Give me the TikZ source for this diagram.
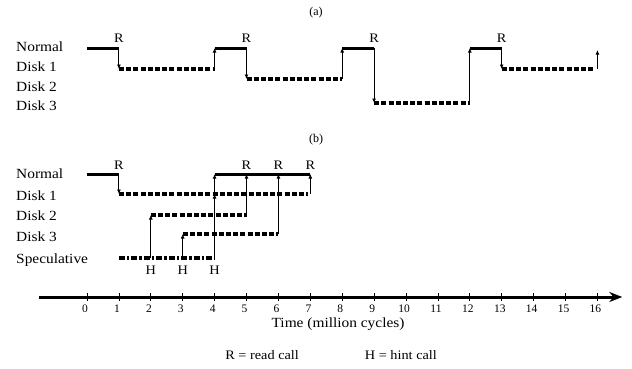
\documentclass[tikz,border=0pt]{standalone}
\usepackage{fontspec}
\setmainfont{Liberation Serif}
\newfontfamily\labfont[FakeStretch=1.1]{Liberation Serif}
\usetikzlibrary{arrows.meta}
\tikzset{
  normalline/.style={line width=3pt},
  diskline/.style={line width=3.2pt, dash pattern=on 5pt off 2.2pt},
  specline/.style={line width=3.2pt, dash pattern=on 6pt off 2pt on 2.5pt off 2pt},
  callarrow/.style={line width=0.9pt, -{Latex[length=4.5pt,width=4pt]}},
  rowlabel/.style={anchor=west, inner sep=0pt, font=\labfont\fontsize{14}{16}\selectfont},
  calllabel/.style={inner sep=0pt, font=\labfont\fontsize{13}{15}\selectfont},
  panel/.style={inner sep=0pt, font=\fontsize{12}{14}\selectfont},
  ticklabel/.style={inner sep=0pt, font=\fontsize{11.5}{13}\selectfont},
  axisline/.style={line width=3pt, -{Stealth[length=13pt,width=10pt]}},
  tickmark/.style={line width=0.8pt},
}
\begin{document}
\begin{tikzpicture}[x=31.9pt, y=-1pt, shift={(87pt,0pt)}]
\useasboundingbox (-2.7273,0) rectangle (17.0846,368);

% ---------- (a) ----------
\node[panel] (pa) at (7.18,13) {(a)};
\node[rowlabel] (laN) at (-2.2257,47) {Normal};
\node[rowlabel] (laD1) at (-2.2257,67) {Disk 1};
\node[rowlabel] (laD2) at (-2.2257,87) {Disk 2};
\node[rowlabel] (laD3) at (-2.2257,106) {Disk 3};

\coordinate (aN0) at (0,48);
\coordinate (aN1) at (1,48);
\coordinate (aD1a) at (1,69);
\coordinate (aD1b) at (4,69);
\coordinate (aN4) at (4,48);
\coordinate (aN5) at (5,48);
\coordinate (aD2a) at (5,79);
\coordinate (aD2b) at (8,79);
\coordinate (aN8) at (8,48);
\coordinate (aN9) at (9,48);
\coordinate (aD3a) at (9,103);
\coordinate (aD3b) at (12,103);
\coordinate (aN12) at (12,48);
\coordinate (aN13) at (13,48);
\coordinate (aD1c) at (13,69);
\coordinate (aD1d) at (15.93,69);
\coordinate (aD1e) at (16,69);
\coordinate (aEnd) at (16,50);

\draw[normalline] (aN0) -- (aN1);
\draw[normalline] (aN4) -- (aN5);
\draw[normalline] (aN8) -- (aN9);
\draw[normalline] (aN12) -- (aN13);
\draw[diskline] (aD1a) -- (aD1b);
\draw[diskline] (aD2a) -- (aD2b);
\draw[diskline] (aD3a) -- (aD3b);
\draw[diskline] (aD1c) -- (aD1d);

\draw[callarrow] (aN1) -- (aD1a);
\draw[callarrow] (aD1b) -- (aN4);
\draw[callarrow] (aN5) -- (aD2a);
\draw[callarrow] (aD2b) -- (aN8);
\draw[callarrow] (aN9) -- (aD3a);
\draw[callarrow] (aD3b) -- (aN12);
\draw[callarrow] (aN13) -- (aD1c);
\draw[callarrow] (aD1e) -- (aEnd);

\node[calllabel] (aR1) at (1,38) {R};
\node[calllabel] (aR5) at (5,38) {R};
\node[calllabel] (aR9) at (9,38) {R};
\node[calllabel] (aR13) at (13,38) {R};

% ---------- (b) ----------
\node[panel] (pb) at (7.18,140) {(b)};
\node[rowlabel] (lbN) at (-2.2257,174) {Normal};
\node[rowlabel] (lbD1) at (-2.2257,196) {Disk 1};
\node[rowlabel] (lbD2) at (-2.2257,216) {Disk 2};
\node[rowlabel] (lbD3) at (-2.2257,237) {Disk 3};
\node[rowlabel] (lbS) at (-2.2257,260) {Speculative};

\coordinate (bN0) at (0,174);
\coordinate (bN1) at (1,174);
\coordinate (bN4) at (4,174);
\coordinate (bN5) at (5,174);
\coordinate (bN6) at (6,174);
\coordinate (bN7) at (7,174);
\coordinate (bD1a) at (1,194);
\coordinate (bD1m) at (4,194);
\coordinate (bD1e) at (6.92,194);
\coordinate (bD1b) at (7,194);
\coordinate (bD2a) at (2,215);
\coordinate (bD2b) at (5,215);
\coordinate (bD3a) at (3,234);
\coordinate (bD3b) at (6,234);
\coordinate (bS1) at (1,258);
\coordinate (bS2) at (2,258);
\coordinate (bS3) at (3,258);
\coordinate (bS4) at (4,258);

\draw[normalline] (bN0) -- (bN1);
\draw[normalline] (bN4) -- (bN7);
\draw[diskline] (bD1a) -- (bD1e);
\draw[diskline] (bD2a) -- (bD2b);
\draw[diskline] (bD3a) -- (bD3b);
\draw[specline] (bS1) -- (bS4);

\draw[callarrow] (bN1) -- (bD1a);
\draw[callarrow] (bS2) -- (bD2a);
\draw[callarrow] (bS3) -- (bD3a);
\draw[callarrow] (bS4) -- (bD1m);
\draw[callarrow] (bD1m) -- (bN4);
\draw[callarrow] (bD2b) -- (bN5);
\draw[callarrow] (bD3b) -- (bN6);
\draw[callarrow] (bD1b) -- (bN7);

\node[calllabel] (bR1) at (1,165) {R};
\node[calllabel] (bR5) at (5,165) {R};
\node[calllabel] (bR6) at (6,165) {R};
\node[calllabel] (bR7) at (7,165) {R};
\node[calllabel] (bH2) at (2,270) {H};
\node[calllabel] (bH3) at (3,270) {H};
\node[calllabel] (bH4) at (4,270) {H};

% ---------- time axis ----------
\coordinate (axL) at (-1.505,297);
\coordinate (axR) at (16.78,297);
\draw[axisline] (axL) -- (axR);
\foreach \t in {0,...,16}{
  \coordinate (tk\t a) at (\t,293);
  \coordinate (tk\t b) at (\t,301);
  \draw[tickmark] (tk\t a) -- (tk\t b);
  \node[ticklabel] (tl\t) at ({\t-0.06},309) {\t};
}
\node[rowlabel, anchor=center] (tlabel) at (7.87,324) {Time (million cycles)};
\node[calllabel] (legR) at (5.49,355) {R = read call};
\node[calllabel] (legH) at (9.84,355) {H = hint call};
\end{tikzpicture}
\end{document}
